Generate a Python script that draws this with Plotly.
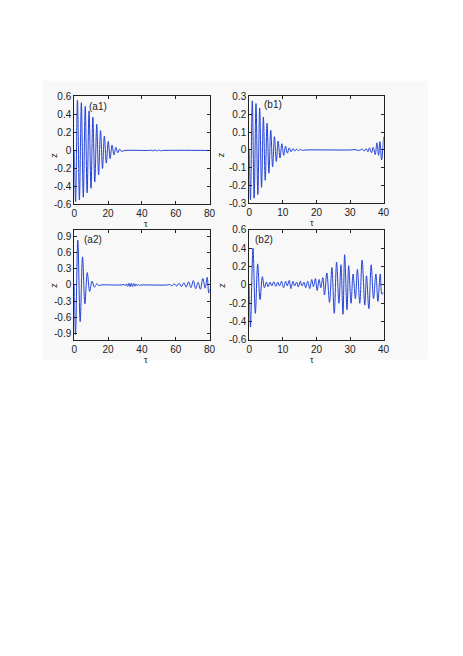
import plotly.graph_objects as go

# --- data (extrema) ---
t_a1 = [0, 0.8, 1.9, 3.05, 4.2, 5.35, 6.5, 7.6, 8.75, 9.9, 11.0, 12.15, 13.3, 14.4,
        15.55, 16.7, 17.8, 18.95, 20.1, 21.2, 22.35, 23.5, 24.6, 25.75, 26.9, 28.0,
        30, 44, 45.5, 46.6, 47.7, 48.8, 49.9, 51.0, 52.5, 80]
z_a1 = [0, -0.57, 0.56, -0.55, 0.53, -0.52, 0.49, -0.47, 0.44, -0.42, 0.37, -0.35, 0.29, -0.27,
        0.22, -0.2, 0.16, -0.14, 0.1, -0.09, 0.06, -0.05, 0.035, -0.025, 0.015, -0.01,
        0, 0, 0.003, -0.005, 0.006, -0.006, 0.005, -0.003, 0, 0]

t_b1 = [0, 0.35, 0.9, 1.45, 2.0, 2.55, 3.1, 3.65, 4.2, 4.75, 5.3, 5.85, 6.4, 6.95, 7.5,
        8.05, 8.6, 9.15, 9.7, 10.25, 10.8, 11.35, 11.9, 12.45, 13.0, 13.55, 14.1, 14.65,
        15.2, 15.75, 17, 30, 31.5, 32.6, 33.7, 34.2, 34.8, 35.3, 35.8, 36.4, 36.9, 37.5,
        38.0, 38.5, 38.9, 39.4, 40]
z_b1 = [0, -0.28, 0.275, -0.27, 0.26, -0.25, 0.235, -0.21, 0.185, -0.17, 0.15, -0.13, 0.11, -0.095, 0.075,
        -0.065, 0.05, -0.045, 0.035, -0.03, 0.022, -0.018, 0.012, -0.01, 0.008, -0.006, 0.005, -0.004,
        0.003, -0.002, 0, 0, 0.002, -0.003, 0.004, -0.006, 0.007, -0.01, 0.012, -0.015, 0.015, -0.026,
        0.04, -0.03, 0.047, -0.056, 0.074]

t_a2 = [0, 0.75, 2.1, 3.5, 4.9, 6.3, 7.7, 9.1, 10.5, 11.9, 13.3, 14.7, 16,
        28, 29.5, 30.2, 30.9, 31.6, 32.3, 33.0, 33.7, 34.4, 35.1, 35.8, 36.5, 37.2, 37.9, 38.6, 40,
        55, 56.4, 57.8, 59.2, 60.6, 62.0, 63.4, 64.8, 66.2, 67.6, 69.0, 70.4, 71.8, 73.2, 74.6,
        76.0, 77.4, 78.6, 79.5, 80]
z_a2 = [0, -0.92, 0.83, -0.68, 0.52, -0.35, 0.23, -0.12, 0.07, -0.04, 0.02, -0.01, 0,
        0, 0.01, -0.015, 0.02, -0.025, 0.03, -0.03, 0.03, -0.03, 0.03, -0.025, 0.02, -0.015, 0.01, -0.005, 0,
        0, 0.01, -0.015, 0.02, -0.02, 0.03, -0.03, 0.04, -0.04, 0.06, -0.05, 0.08, -0.07, 0.05, -0.08,
        0.12, -0.06, 0.14, -0.15, -0.08]

t_b2 = [0, 0.35, 1.1, 1.8, 2.5, 3.2, 3.9, 4.5, 5.1, 5.6, 6.2, 6.7, 7.3, 7.9, 8.5, 9.0,
        9.6, 10.2, 10.8, 11.3, 11.9, 12.4, 13.0, 13.5, 14.1, 14.6, 15.2, 15.7, 16.3, 16.8,
        17.4, 18.0, 18.6, 19.1, 19.7, 20.2, 20.8, 21.3, 21.9, 22.4, 23.1, 23.9, 24.6, 25.3,
        26.0, 26.7, 27.3, 27.9, 28.4, 29.1, 29.6, 30.3, 30.9, 31.6, 32.2, 32.9, 33.6, 34.4,
        34.9, 35.6, 36.3, 37.0, 37.7, 38.3, 39.0, 39.5, 40]
z_b2 = [0, -0.46, 0.40, -0.31, 0.23, -0.16, 0.09, -0.03, 0.03, -0.02, 0.03, -0.01, 0.035, -0.015, 0.03, -0.01,
        0.04, -0.03, 0.04, -0.01, 0.05, -0.04, 0.04, -0.01, 0.03, -0.02, 0.04, -0.01, 0.03, -0.03,
        0.04, -0.04, 0.06, -0.02, 0.07, -0.06, 0.06, -0.03, 0.08, -0.11, 0.13, -0.19, 0.19, -0.31,
        0.25, -0.2, 0.22, -0.32, 0.33, -0.27, 0.21, -0.2, 0.12, -0.15, 0.17, -0.2, 0.27, -0.22,
        0.1, -0.26, 0.22, -0.15, 0.12, -0.18, 0.12, -0.1, -0.08]

W, H = 463, 656
blue = "rgb(35,65,215)"
fnt = "Liberation Sans, Arial, sans-serif"

# (axis suffix, t, z, x range, y range, x ticks, y ticks, box px [x0,x1,y0,y1], label, label px)
panels = [
    ("", t_a1, z_a1, [0, 80], [-0.6, 0.6], [0, 20, 40, 60, 80],
     [-0.6, -0.4, -0.2, 0, 0.2, 0.4, 0.6], [64.5, 202.5, 84, 194], "(a1)", (78, 94)),
    ("2", t_b1, z_b1, [0, 40], [-0.3, 0.3], [0, 10, 20, 30, 40],
     [-0.3, -0.2, -0.1, 0, 0.1, 0.2, 0.3], [243, 380, 84, 193], "(b1)", (256, 92)),
    ("3", t_a2, z_a2, [0, 80], [-1.02, 1.02], [0, 20, 40, 60, 80],
     [-0.9, -0.6, -0.3, 0, 0.3, 0.6, 0.9], [64.5, 202.5, 220, 332], "(a2)", (72, 230)),
    ("4", t_b2, z_b2, [0, 40], [-0.6, 0.6], [0, 10, 20, 30, 40],
     [-0.6, -0.4, -0.2, 0, 0.2, 0.4, 0.6], [243, 380, 220, 332], "(b2)", (247, 230)),
]

fig = go.Figure()
annos = []
for sfx, t, z, xr, yr, xt, yt, box, lab, lp in panels:
    fig.add_trace(go.Scatter(x=t, y=z, mode="lines", xaxis="x" + sfx, yaxis="y" + sfx,
                             line=dict(color=blue, width=1, shape="spline", smoothing=1),
                             showlegend=False, hoverinfo="skip"))
    ax = dict(range=xr, tickvals=xt, ticktext=[str(v) for v in xt],
              domain=[box[0] / W, box[1] / W], anchor="y" + sfx,
              showline=True, linecolor="#222", linewidth=1, mirror="ticks",
              ticks="inside", ticklen=3, tickcolor="#222", showgrid=False, zeroline=False,
              tickfont=dict(size=10, color="#222", family=fnt))
    ay = dict(range=yr, tickvals=yt, ticktext=[("%g" % v) for v in yt],
              domain=[1 - box[3] / H, 1 - box[2] / H], anchor="x" + sfx,
              showline=True, linecolor="#222", linewidth=1, mirror="ticks",
              ticks="inside", ticklen=3, tickcolor="#222", showgrid=False, zeroline=False,
              tickfont=dict(size=10, color="#222", family=fnt))
    fig.update_layout({"xaxis" + sfx: ax, "yaxis" + sfx: ay})
    annos.append(dict(text=lab, x=lp[0] / W, y=1 - lp[1] / H, xref="paper", yref="paper",
                      xanchor="left", yanchor="middle", showarrow=False,
                      font=dict(size=10, color="#222", family=fnt)))
    # x label just under the tick labels
    annos.append(dict(text="τ", x=(box[0] + box[1]) / 2 / W, y=1 - (box[3] + 20) / H,
                      xref="paper", yref="paper", showarrow=False, yanchor="middle",
                      font=dict(size=9, color="#222", family=fnt)))
    annos.append(dict(text="z", x=(box[0] - 28) / W, y=1 - (box[2] + box[3]) / 2 / H,
                      xref="paper", yref="paper", showarrow=False, textangle=-90,
                      font=dict(size=9, color="#222", family=fnt)))

fig.update_layout(
    width=W, height=H, margin=dict(l=0, r=0, t=0, b=0),
    paper_bgcolor="white", plot_bgcolor="white",
    annotations=annos,
    shapes=[dict(type="rect", xref="paper", yref="paper", x0=32 / W, x1=425 / W,
                 y0=1 - 352 / H, y1=1 - 68 / H, fillcolor="#f8f8f8", line=dict(width=0),
                 layer="below")],
)

fig.write_html("out.html")
